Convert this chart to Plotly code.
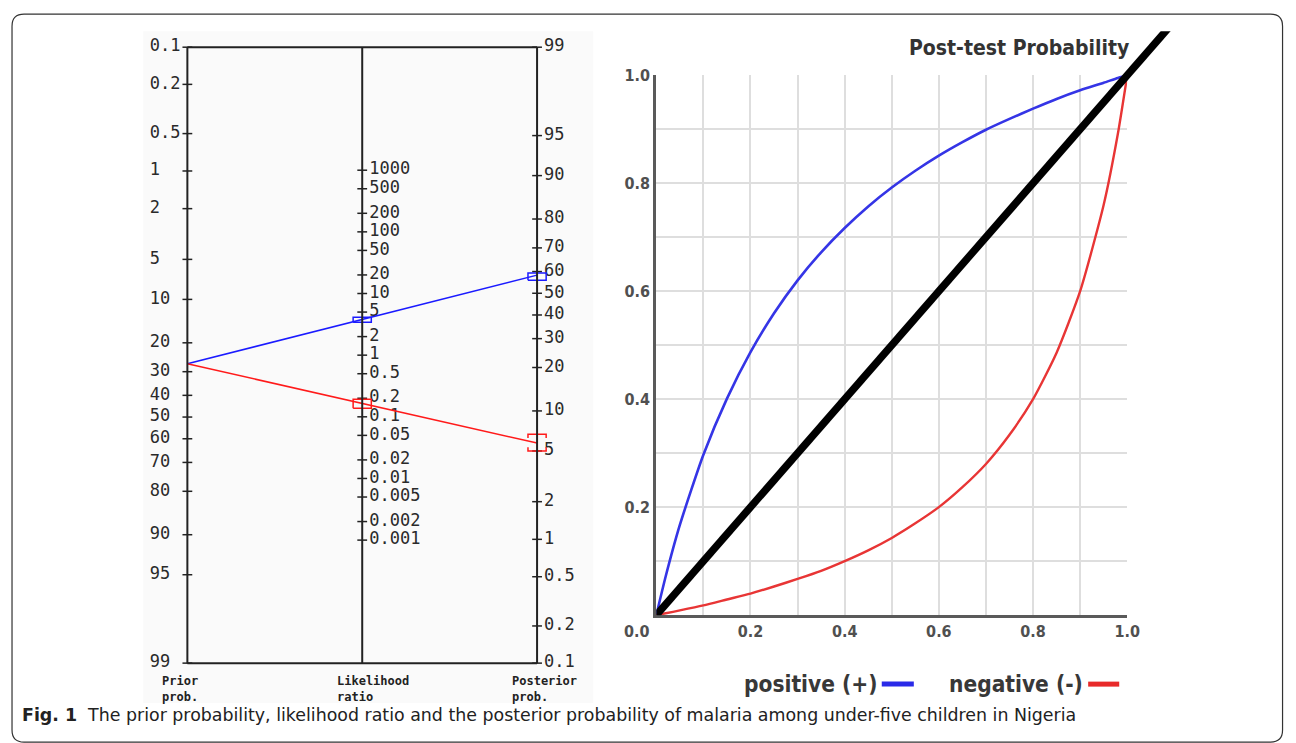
import numpy as np
import plotly.graph_objects as go

W, H = 1296, 743

# ---------------- data ----------------
prior_labels = ["0.1", "0.2", "0.5", "1", "2", "5", "10", "20", "30", "40",
                "50", "60", "70", "80", "90", "95", "99"]
prior_values = [0.1, 0.2, 0.5, 1, 2, 5, 10, 20, 30, 40, 50, 60, 70, 80, 90, 95, 99]

lr_labels = ["1000", "500", "200", "100", "50", "20", "10", "5", "2", "1",
             "0.5", "0.2", "0.1", "0.05", "0.02", "0.01", "0.005", "0.002", "0.001"]
lr_values = [1000, 500, 200, 100, 50, 20, 10, 5, 2, 1, 0.5, 0.2, 0.1, 0.05,
             0.02, 0.01, 0.005, 0.002, 0.001]

post_labels = ["99", "95", "90", "80", "70", "60", "50", "40", "30", "20",
               "10", "5", "2", "1", "0.5", "0.2", "0.1"]
post_values = [99, 95, 90, 80, 70, 60, 50, 40, 30, 20, 10, 5, 2, 1, 0.5, 0.2, 0.1]

axis_names = ["Prior<br>prob.", "Likelihood<br>ratio", "Posterior<br>prob."]

prior_prob = 27.0
lr_pos = 3.8
post_pos = 58.4
lr_neg = 0.167
post_neg = 5.75
lr_pos_ci = [3.43, 4.13]
post_pos_ci = [56.1, 59.3]
lr_neg_ci = [0.138, 0.193]
post_neg_ci = [5.0, 6.7]

pretest = [0, 0.02, 0.05, 0.1, 0.15, 0.2, 0.25, 0.3, 0.35, 0.4, 0.45, 0.5,
           0.55, 0.6, 0.65, 0.7, 0.75, 0.8, 0.85, 0.9, 0.95, 0.98, 1.0]
post_positive = [0, 0.072, 0.167, 0.297, 0.401, 0.487, 0.559, 0.62, 0.672,
                 0.717, 0.757, 0.792, 0.823, 0.851, 0.876, 0.899, 0.919,
                 0.938, 0.956, 0.972, 0.986, 0.995, 1.0]
post_negative = [0, 0.0034, 0.0087, 0.018, 0.029, 0.040, 0.053, 0.067, 0.082,
                 0.100, 0.120, 0.143, 0.170, 0.200, 0.237, 0.280, 0.334,
                 0.400, 0.486, 0.600, 0.760, 0.891, 1.0]
diag_x = [0, 1.2]
diag_y = [0, 1.2]

x_ticks = [0.1, 0.2, 0.3, 0.4, 0.5, 0.6, 0.7, 0.8, 0.9, 1.0]
x_ticktext = ["", "0.2", "", "0.4", "", "0.6", "", "0.8", "", "1.0"]

# ---------------- helpers ----------------
# the captured page appears slightly shrunk and shifted down; compensate
S = 0.988
OY = 7.8

def px(x):
    return min(x / S, W) / W

def py(y):
    return 1 - ((y - OY) / S) / H

def logit(p):
    p = np.asarray(p, dtype=float) / 100.0
    return np.log(p / (1 - p))

U_TOP = float(logit(0.1))
U_BOT = float(logit(99))
C = U_TOP + U_BOT

def u_left(p):
    return logit(p)

def u_right(p):
    return C - logit(p)

def u_mid(lr):
    return (C - np.log(np.asarray(lr, dtype=float))) / 2

NOMO_FONT = "DejaVu Sans Mono"
INK = "#222222"
BLUE_N = "#1a1aff"
RED_N = "#ff1a1a"

# nomogram pixel geometry: x=0 at 187px, x=2 at 536px
NX0, NX2 = 187, 536
NSC = (NX2 - NX0) / 2.0
ND0, ND1 = 140, 600
NR0 = -(NX0 - ND0) / NSC
NR1 = (ND1 - NX0) / NSC

fig = go.Figure()

# ---------- nomogram ----------
for xpos, uvals in [(0, u_left(prior_values)), (1, u_mid(lr_values)), (2, u_right(post_values))]:
    fig.add_trace(go.Scatter(
        x=[xpos] * len(uvals), y=uvals, mode="markers",
        marker=dict(symbol="line-ew", size=7, line=dict(width=1.5, color=INK)),
        xaxis="x", yaxis="y", showlegend=False, hoverinfo="skip", cliponaxis=False))

LAB_FONT = dict(family=NOMO_FONT, size=17, color="#2a2a2a")
fig.add_trace(go.Scatter(
    x=[-0.215] * len(prior_values), y=u_left(prior_values), text=prior_labels,
    mode="text", textposition="middle right", textfont=LAB_FONT,
    xaxis="x", yaxis="y", showlegend=False, hoverinfo="skip", cliponaxis=False))
fig.add_trace(go.Scatter(
    x=[1.04] * len(lr_values), y=u_mid(lr_values), text=lr_labels,
    mode="text", textposition="middle right", textfont=LAB_FONT,
    xaxis="x", yaxis="y", showlegend=False, hoverinfo="skip", cliponaxis=False))
fig.add_trace(go.Scatter(
    x=[2.04] * len(post_values), y=u_right(post_values), text=post_labels,
    mode="text", textposition="middle right", textfont=LAB_FONT,
    xaxis="x", yaxis="y", showlegend=False, hoverinfo="skip", cliponaxis=False))

fig.add_trace(go.Scatter(
    x=[0, 1, 2], y=[float(u_left(prior_prob)), float(u_mid(lr_pos)), float(u_right(post_pos))],
    mode="lines", line=dict(color=BLUE_N, width=1.5),
    xaxis="x", yaxis="y", showlegend=False, hoverinfo="skip"))
fig.add_trace(go.Scatter(
    x=[0, 1, 2], y=[float(u_left(prior_prob)), float(u_mid(lr_neg)), float(u_right(post_neg))],
    mode="lines", line=dict(color=RED_N, width=1.5),
    xaxis="x", yaxis="y", showlegend=False, hoverinfo="skip"))

HW = 0.052  # half width of interval boxes (x units)

def box(xc, ya, yb):
    return ([xc - HW, xc + HW, xc + HW, xc - HW, xc - HW],
            [ya, ya, yb, yb, ya])

def bracket(xc, ya, yb, tick):
    sa = np.sign(yb - ya)
    xs = [xc - HW, xc - HW, xc + HW, xc + HW, None,
          xc - HW, xc - HW, xc + HW, xc + HW]
    ys = [ya + sa * tick, ya, ya, ya + sa * tick, None,
          yb - sa * tick, yb, yb, yb - sa * tick]
    return xs, ys

for (bx, by), col in [
    (box(1, float(u_mid(lr_pos_ci[0])), float(u_mid(lr_pos_ci[1]))), BLUE_N),
    (box(2, float(u_right(post_pos_ci[0])), float(u_right(post_pos_ci[1]))), BLUE_N),
    (box(1, float(u_mid(lr_neg_ci[0])), float(u_mid(lr_neg_ci[1]))), RED_N),
    (bracket(2, float(u_right(post_neg_ci[0])), float(u_right(post_neg_ci[1])), 0.07), RED_N),
]:
    fig.add_trace(go.Scatter(x=bx, y=by, mode="lines", line=dict(color=col, width=1.5),
                             xaxis="x", yaxis="y", showlegend=False, hoverinfo="skip"))

# ---------- post-test probability chart ----------
fig.add_trace(go.Scatter(
    x=pretest, y=post_positive, mode="lines",
    line=dict(color="#3535e6", width=2.6, shape="spline", smoothing=0.6),
    xaxis="x2", yaxis="y2", showlegend=False, hoverinfo="skip"))
fig.add_trace(go.Scatter(
    x=pretest, y=post_negative, mode="lines",
    line=dict(color="#e83535", width=2.4, shape="spline", smoothing=0.6),
    xaxis="x2", yaxis="y2", showlegend=False, hoverinfo="skip"))
fig.add_trace(go.Scatter(
    x=diag_x, y=diag_y, mode="lines", line=dict(color="#000000", width=7.5),
    xaxis="x3", yaxis="y3", showlegend=False, hoverinfo="skip"))

# ---------------- layout ----------------
X0, X1 = 655, 1125      # right chart x=0 / x=1 pixels
Y0, Y1 = 614, 74        # right chart y=0 / y=1 pixels
XT, YT = 1180, 30       # overlay extent

NARROW = "Liberation Sans Narrow, DejaVu Sans Condensed, Roboto"
TICKFONT = dict(family=NARROW, size=16, color="#505050", weight="bold")

fig.update_layout(
    width=W, height=H, autosize=False,
    margin=dict(l=0, r=0, t=0, b=0),
    paper_bgcolor="white", plot_bgcolor="rgba(0,0,0,0)",
    showlegend=False,
    xaxis=dict(domain=[px(ND0), px(ND1)], range=[NR0, NR1], visible=False,
               fixedrange=True, anchor="y"),
    yaxis=dict(domain=[py(662), py(46)], range=[U_BOT, U_TOP], visible=False,
               fixedrange=True, anchor="x"),
    xaxis2=dict(domain=[px(X0), px(X1)], range=[0, 1], anchor="y2",
                tickmode="array", tickvals=x_ticks, ticktext=x_ticktext,
                showgrid=True, gridcolor="#dedede", gridwidth=2, zeroline=False,
                showline=True, linecolor="#5a5a5a", linewidth=3, ticks="",
                tickfont=TICKFONT, fixedrange=True),
    yaxis2=dict(domain=[py(Y0), py(Y1)], range=[0, 1], anchor="x2",
                tickmode="array", tickvals=x_ticks, ticktext=x_ticktext,
                showgrid=True, gridcolor="#dedede", gridwidth=2, zeroline=False,
                showline=True, linecolor="#5a5a5a", linewidth=3, ticks="",
                tickfont=TICKFONT, fixedrange=True),
    xaxis3=dict(domain=[px(X0), px(XT)], range=[0, (XT - X0) / (X1 - X0)], anchor="y3",
                visible=False, fixedrange=True),
    yaxis3=dict(domain=[py(Y0), py(YT)], range=[0, (Y0 - YT) / (Y0 - Y1)], anchor="x3",
                visible=False, fixedrange=True),
)

FR = dict(color=INK, width=2)
shapes = [
    dict(type="rect", xref="paper", yref="paper", x0=px(143), x1=px(592), y0=py(702), y1=py(30),
         fillcolor="#fafafa", line=dict(width=0), layer="below"),
    dict(type="line", xref="x", yref="y domain", x0=0, x1=0, y0=0, y1=1, line=FR),
    dict(type="line", xref="x", yref="y domain", x0=1, x1=1, y0=0, y1=1, line=FR),
    dict(type="line", xref="x", yref="y domain", x0=2, x1=2, y0=0, y1=1, line=FR),
    dict(type="line", xref="x", yref="y domain", x0=0, x1=2, y0=0, y1=0, line=FR),
    dict(type="line", xref="x", yref="y domain", x0=0, x1=2, y0=1, y1=1, line=FR),
    dict(type="line", xref="paper", yref="paper", x0=px(880), x1=px(912), y0=py(683), y1=py(683),
         line=dict(color="#2a2ae8", width=5)),
    dict(type="line", xref="paper", yref="paper", x0=px(1086), x1=px(1117), y0=py(683), y1=py(683),
         line=dict(color="#e82a2a", width=5)),
]

fx0, fx1, fy0, fy1, r = 12, 1280, 13, 741, 12
def P(x, y):
    return f"{px(x):.5f},{py(y):.5f}"
frame_path = (f"M {P(fx0 + r, fy0)} L {P(fx1 - r, fy0)} Q {P(fx1, fy0)} {P(fx1, fy0 + r)} "
              f"L {P(fx1, fy1 - r)} Q {P(fx1, fy1)} {P(fx1 - r, fy1)} "
              f"L {P(fx0 + r, fy1)} Q {P(fx0, fy1)} {P(fx0, fy1 - r)} "
              f"L {P(fx0, fy0 + r)} Q {P(fx0, fy0)} {P(fx0 + r, fy0)} Z")
shapes.append(dict(type="path", xref="paper", yref="paper", path=frame_path,
                   line=dict(color="#333333", width=1.2)))
fig.update_layout(shapes=shapes)

LEG_FONT = dict(family=NARROW, size=22.5, color="#383838", weight="bold")
annotations = []
for name, xs in zip(axis_names, [160, 334, 509]):
    annotations.append(dict(text="<b>" + name + "</b>", x=px(xs), y=py(688), xref="paper", yref="paper",
                            xanchor="left", yanchor="middle", align="left", showarrow=False,
                            font=dict(family=NOMO_FONT, size=12, color=INK)))
annotations += [
    dict(text="0.0", x=px(636), y=py(630), xref="paper", yref="paper", xanchor="center", yanchor="middle",
         showarrow=False, font=TICKFONT),
    dict(text="Post-test Probability", x=px(1129), y=py(47), xref="paper", yref="paper",
         xanchor="right", yanchor="middle", showarrow=False,
         font=dict(family=NARROW, size=21, color="#333333", weight="bold")),
    dict(text="positive (+)", x=px(877), y=py(683), xref="paper", yref="paper", xanchor="right",
         yanchor="middle", showarrow=False, font=LEG_FONT),
    dict(text="negative (-)", x=px(1083), y=py(683), xref="paper", yref="paper", xanchor="right",
         yanchor="middle", showarrow=False, font=LEG_FONT),
    dict(text="<b>Fig. 1</b>  The prior probability, likelihood ratio and the posterior probability of malaria among under-five children in Nigeria",
         x=px(20), y=py(714), xref="paper", yref="paper", xanchor="left", yanchor="middle", showarrow=False,
         font=dict(family="DejaVu Sans", size=17.4, color="#222222")),
]
fig.update_layout(annotations=annotations)

fig.write_html(
    "out.html",
    config={"displayModeBar": False},
    post_script=("document.body.style.margin='0';document.body.style.padding='0';"
                 "document.documentElement.style.overflow='hidden';"),
)
